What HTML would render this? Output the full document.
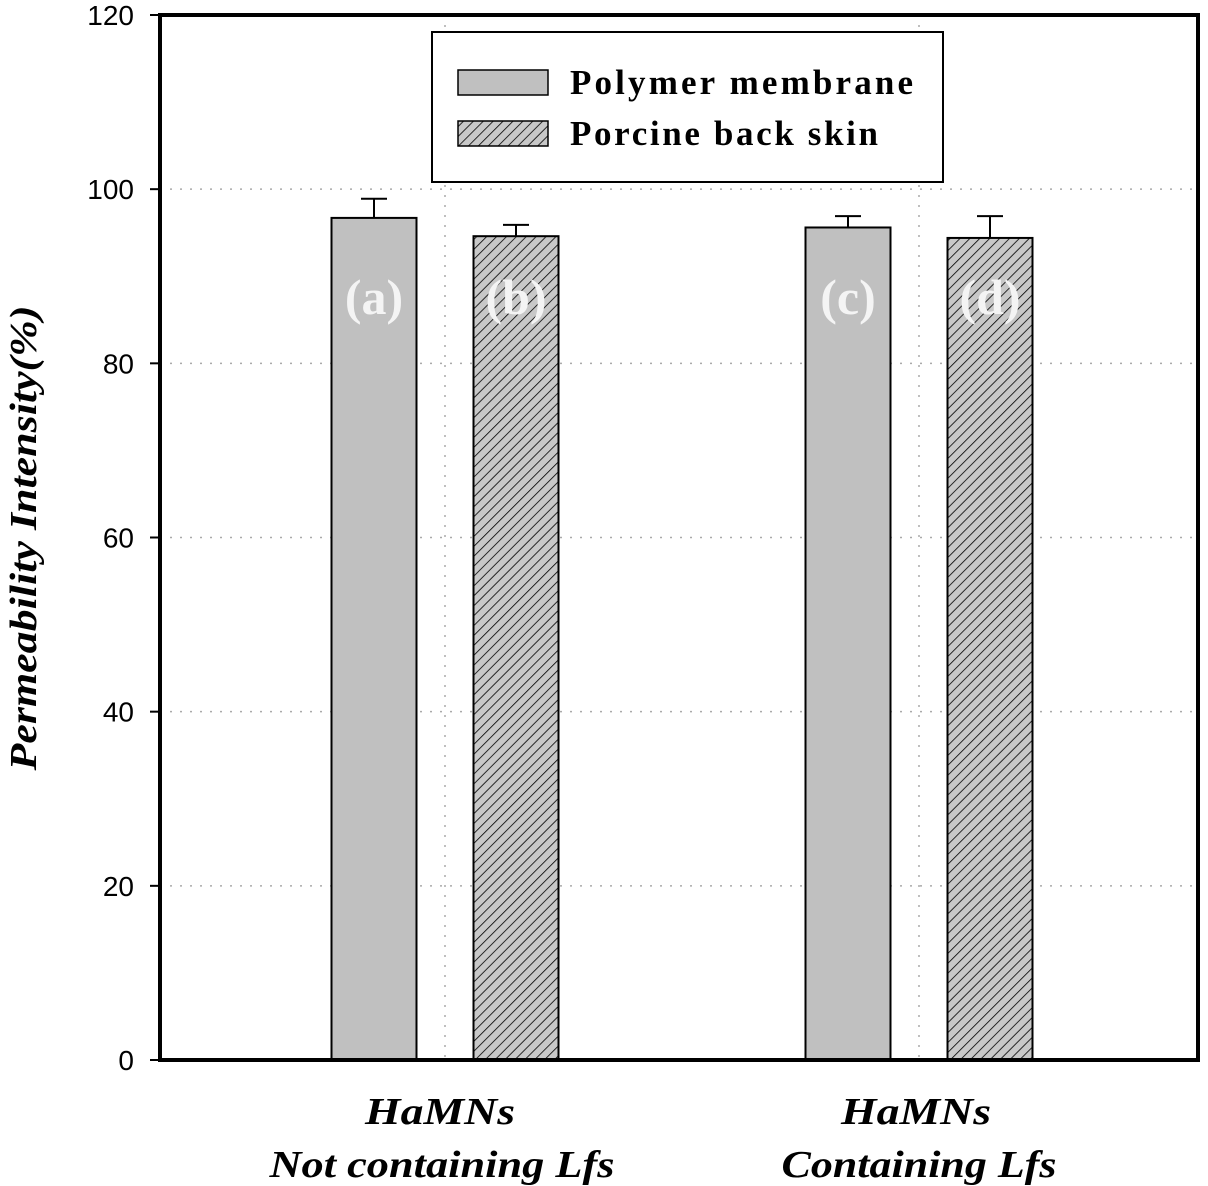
<!DOCTYPE html>
<html><head><meta charset="utf-8"><style>
html,body{margin:0;padding:0;background:#fff;}
svg{display:block;}
</style></head><body>
<svg id="chart" width="1208" height="1186" xmlns="http://www.w3.org/2000/svg">
<defs>
<pattern id="hatch" patternUnits="userSpaceOnUse" width="7" height="7" patternTransform="rotate(45)">
<rect width="7" height="7" fill="#c8c8c8"/>
<line x1="0" y1="0" x2="0" y2="7" stroke="#000" stroke-width="1.6"/>
</pattern>
</defs>
<g id="grid"></g>
<g id="bars"></g>
<g id="axes"></g>
<g>
<rect x="432" y="32" width="511" height="150" fill="#fff" stroke="#000" stroke-width="2"/>
<rect x="458" y="70" width="90" height="25" fill="#c0c0c0" stroke="#000" stroke-width="1.5"/>
<text x="570" y="94" font-family="Liberation Serif, serif" font-weight="bold" font-size="35" textLength="343" lengthAdjust="spacing">Polymer membrane</text>
<rect x="458" y="121" width="90" height="25" fill="url(#hatch)" stroke="#000" stroke-width="1.5"/>
<text x="570" y="145" font-family="Liberation Serif, serif" font-weight="bold" font-size="35" textLength="308" lengthAdjust="spacing">Porcine back skin</text>
</g>
<text transform="translate(36,538) rotate(-90)" text-anchor="middle" font-family="Liberation Serif, serif" font-weight="bold" font-style="italic" font-size="38" textLength="465" lengthAdjust="spacingAndGlyphs">Permeability Intensity(%)</text>
<g font-family="Liberation Serif, serif" font-weight="bold" font-style="italic" font-size="38" text-anchor="middle">
<text x="440" y="1124" textLength="150" lengthAdjust="spacingAndGlyphs">HaMNs</text>
<text x="442" y="1177" textLength="345" lengthAdjust="spacingAndGlyphs">Not containing Lfs</text>
<text x="916" y="1124" textLength="150" lengthAdjust="spacingAndGlyphs">HaMNs</text>
<text x="919" y="1177" textLength="275" lengthAdjust="spacingAndGlyphs">Containing Lfs</text>
</g>
</svg>
<script>
const categories = ["Not containing Lfs", "Containing Lfs"];
const polymerValues = [96.7, 95.6];
const polymerErrors = [2.2, 1.3];
const porcineValues = [94.6, 94.4];
const porcineErrors = [1.3, 2.5];
const barLabels = [["(a)","(b)"],["(c)","(d)"]];
const yTicks = [0,20,40,60,80,100,120];

const NS = "http://www.w3.org/2000/svg";
const L=160, R=1198, T=15, B=1060, YMAX=120;
const y = v => B - v/YMAX*(B-T);
const catCenter = i => 445 + i*474;
function mk(tag, attrs, parent){const e=document.createElementNS(NS,tag);for(const k in attrs)e.setAttribute(k,attrs[k]);parent.appendChild(e);return e;}
const grid=document.getElementById('grid'), bars=document.getElementById('bars'), axes=document.getElementById('axes');

yTicks.forEach(t=>{
  if(t>0 && t<YMAX){
    const g=mk('line',{x1:L,x2:R,y1:y(t),y2:y(t),stroke:'#aaa','stroke-width':1.5,'stroke-dasharray':'2 8'},grid);
    
    
  }
  const tk=mk('line',{x1:L-10,x2:L,y1:y(t),y2:y(t),stroke:'#000','stroke-width':2},axes);
  
  
  const tl=mk('text',{x:L-26,y:y(t)+10,'text-anchor':'end','font-family':'Liberation Sans, sans-serif','font-size':28},axes);
  tl.textContent=t;
  
  
});
categories.forEach((c,i)=>{
  const g=mk('line',{x1:catCenter(i),x2:catCenter(i),y1:T,y2:B,stroke:'#aaa','stroke-width':1.5,'stroke-dasharray':'2 8'},grid);
  
  
  const series=[[polymerValues,polymerErrors,'#c0c0c0',-71],[porcineValues,porcineErrors,'url(#hatch)',71]];
  series.forEach((s,j)=>{
    const cx=catCenter(i)+s[3], w=85, v=s[0][i], e=s[1][i];
    const eb=mk('line',{x1:cx,x2:cx,y1:y(v+e),y2:y(v),stroke:'#000','stroke-width':2},bars);
    
    
    const ec=mk('line',{x1:cx-13,x2:cx+13,y1:y(v+e),y2:y(v+e),stroke:'#000','stroke-width':2},bars);
    
    
    const r=mk('rect',{x:cx-w/2,y:y(v),width:w,height:B-y(v),fill:s[2],stroke:'#000','stroke-width':2},bars);
    
    
    const t=mk('text',{x:cx,y:314,'text-anchor':'middle','font-family':'Liberation Serif, serif','font-weight':'bold','font-size':50,fill:'#f4f4f4'},bars);
    t.textContent=barLabels[i][j];
    
    
  });
});
const fr=mk('rect',{x:L,y:T,width:R-L,height:B-T,fill:'none',stroke:'#000','stroke-width':4},axes);


</script>
</body></html>
